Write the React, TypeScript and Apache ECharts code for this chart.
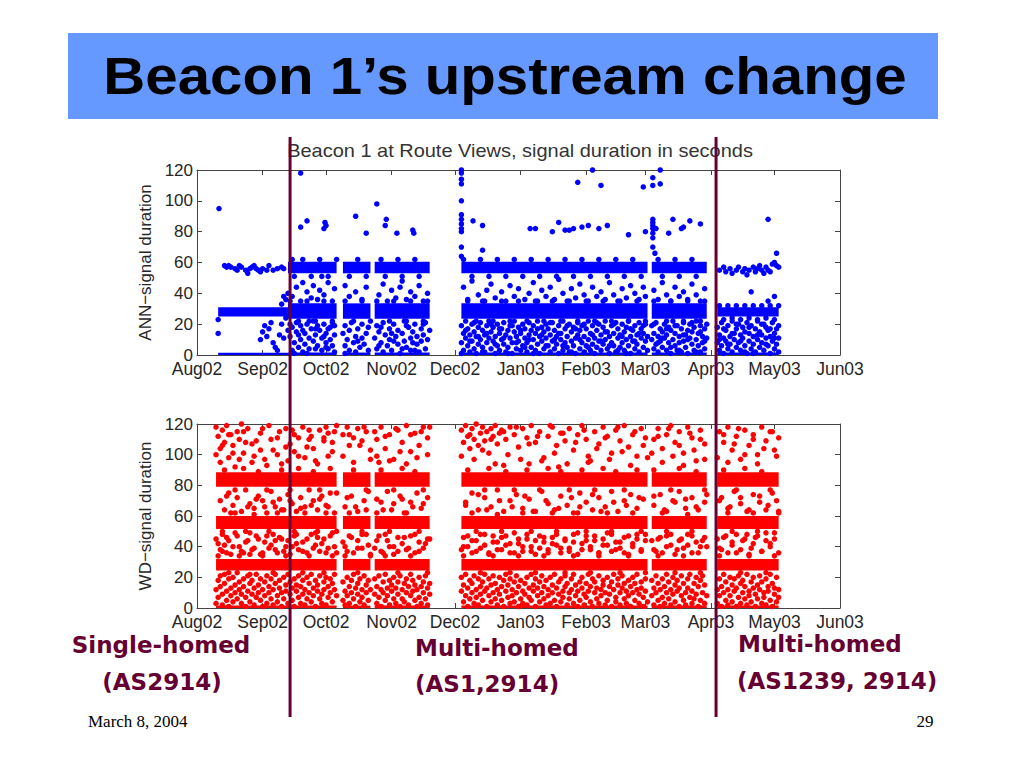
import React, { useEffect, useRef } from "react";
import * as echarts from "echarts";

// x values are days since 1 Aug 2002
const monthDays = [0, 31, 61, 92, 122, 153, 184, 212, 243, 273, 304];
const monthLabels = ["Aug02", "Sep02", "Oct02", "Nov02", "Dec02", "Jan03", "Feb03", "Mar03", "Apr03", "May03", "Jun03"];
const changeDays = [44, 245.4];

// dense bands: [startDay, endDay, low, high]
const annBands = [
  [10, 43, 0, 1.4], [10, 43, 25, 31],
  [43, 66, 0, 1.6], [43, 66, 23.5, 33.5], [43, 66, 53, 60.5],
  [69, 82, 0, 1.6], [69, 82, 23.5, 33.5], [69, 82, 53, 60.5],
  [84, 110, 0, 1.6], [84, 110, 23.5, 33.5], [84, 110, 53, 60.5],
  [125, 213, 0, 1.6], [125, 213, 23.5, 33.5], [125, 213, 53, 60.5],
  [215, 241, 0, 1.6], [215, 241, 23.5, 33.5], [215, 241, 53, 60.5],
  [246, 275, 0, 1.6], [246, 275, 25, 31],
];
const wdBands = [
  [9, 66, 0, 1.6], [9, 66, 24.5, 32], [9, 66, 51.5, 60], [9, 66, 79, 88.5],
  [69, 82, 0, 1.6], [69, 82, 24.5, 32], [69, 82, 51.5, 60], [69, 82, 79, 88.5],
  [84, 110, 0, 1.6], [84, 110, 24.5, 32], [84, 110, 51.5, 60], [84, 110, 79, 88.5],
  [125, 213, 0, 1.6], [125, 213, 24.5, 32], [125, 213, 51.5, 60], [125, 213, 79, 88.5],
  [215, 241, 0, 1.6], [215, 241, 24.5, 32], [215, 241, 51.5, 60], [215, 241, 79, 88.5],
  [246, 275, 0, 1.6], [246, 275, 24.5, 32], [246, 275, 51.5, 60], [246, 275, 79, 88.5],
];

// ANN scatter, flat [day, value, day, value, ...]
const annOutliers = [
  10.4, 95, 49, 118, 49, 83, 52, 87, 60, 82, 60.5, 86, 61, 84, 75, 90, 80, 79, 85, 98, 89, 84, 89.5, 88, 94.5, 79, 102, 81, 102.5, 79,
  125, 120, 125, 118, 125, 114, 125, 111, 125, 100, 125, 91, 125, 88, 125, 85, 125, 82, 125, 80, 125, 70, 125, 64, 130.5, 87, 135, 84, 135, 68,
  157.5, 82, 160, 82, 168, 80, 171, 86, 174, 81, 176, 81, 178, 82, 182, 83, 185, 84, 190, 82, 194, 84, 204, 78, 212, 80,
  180, 112, 187, 120, 191, 110, 211, 109, 215.5, 115, 215.5, 110, 219, 120, 219, 111,
  215.5, 88, 215.5, 86, 215.5, 84, 215.5, 82, 215.5, 79, 215.5, 76, 215.5, 70, 216.5, 66, 217, 82, 223, 79, 225, 88, 229, 82, 230, 83, 233, 87, 238, 85, 270, 88, 274, 66,
];
const annUpper = [
  13, 58, 14, 57, 15, 58, 16, 57, 18, 56, 19, 55, 20, 58, 21, 57, 23, 55, 24, 53, 25, 56, 26, 57, 27, 58, 28, 56, 29, 55, 30, 54, 31, 56, 33, 55, 34, 58, 36, 55, 38, 56, 40, 57, 41, 56,
  247, 55, 249, 57, 250, 54, 252, 56, 253, 53, 255, 55, 256, 57, 258, 54, 259, 56, 261, 55, 263, 57, 264, 54, 265, 56, 267, 55, 268, 53, 269, 57, 270, 55, 271, 54, 272, 59, 273, 60, 274, 58, 275, 57, 266, 58, 260, 52, 262, 41,
];
const annMid = [
  40, 33, 41, 38, 42, 36, 43, 40,
  45, 38, 47, 44, 49, 35, 50, 47, 52, 41, 54, 37, 55, 45, 57, 36, 58, 42, 60, 39, 62, 47, 64, 35, 65, 43,
  70, 45, 72, 38, 75, 41, 78, 36, 80, 44,
  86, 39, 88, 46, 90, 35, 92, 42, 94, 37, 96, 44, 97, 48, 99, 36, 101, 41, 103, 38, 105, 45, 107, 35, 109, 40,
  126, 44, 128, 36, 130, 48, 133, 39, 135, 35, 137, 42, 139, 46, 141, 37, 144, 41, 146, 35, 148, 45, 150, 38, 152, 43, 155, 36, 157, 40, 159, 47, 161, 35, 163, 42, 165, 38, 167, 44, 169, 36, 171, 49, 173, 40, 175, 35, 177, 43, 179, 37, 181, 46, 183, 39, 185, 35, 187, 44, 189, 38, 191, 41, 193, 36, 195, 47, 197, 39, 199, 35, 201, 43, 203, 37, 205, 45, 207, 40, 209, 36, 211, 44, 212, 38,
  216, 42, 218, 36, 220, 47, 222, 39, 224, 35, 226, 44, 228, 38, 230, 41, 232, 36, 234, 46, 236, 39, 238, 35, 240, 43,
  270, 35, 273, 38,
];
const annFringe = [
  44, 35, 46, 51, 48, 22, 50, 62, 52, 35, 54, 51, 56, 22, 58, 62, 60, 35, 62, 51, 64, 22, 66, 62, 45, 62, 53, 22, 59, 51,
  70, 35, 72, 51, 74, 22, 76, 62, 78, 35, 80, 51, 82, 22,
  85, 35, 87, 62, 89, 51, 91, 22, 93, 35, 95, 62, 97, 51, 99, 22, 101, 35, 103, 62, 105, 51, 107, 22, 109, 35,
  126, 62, 128, 35, 130, 51, 132, 22, 134, 62, 136, 35, 138, 51, 140, 22, 142, 62, 144, 35, 146, 51, 148, 22, 150, 62, 152, 35, 154, 51, 156, 22, 158, 62, 160, 35, 162, 51, 164, 22, 166, 62, 168, 35, 170, 51, 172, 22, 174, 62, 176, 35, 178, 51, 180, 22, 182, 62, 184, 35, 186, 51, 188, 22, 190, 62, 192, 35, 194, 51, 196, 22, 198, 62, 200, 35, 202, 51, 204, 22, 206, 62, 208, 35, 210, 51, 212, 22,
  216, 35, 218, 62, 220, 51, 222, 22, 224, 35, 226, 62, 228, 51, 230, 22, 232, 35, 234, 62, 236, 51, 238, 22, 240, 35,
  247, 32, 249, 23, 251, 32, 253, 24, 255, 32, 257, 23, 259, 32, 261, 24, 263, 32, 265, 23, 267, 32, 269, 24, 271, 32, 273, 23, 275, 32,
];
const annLow = [
  10, 14, 10, 23, 30, 10, 31, 15, 32, 19, 33, 12, 34, 17, 35, 21, 36, 8, 37, 5, 38, 3, 39, 13, 40, 20, 41, 11, 42, 24,
  44, 12, 45, 3, 45, 18, 46, 8, 47, 15, 47, 21, 48, 5, 49, 10, 49, 19, 50, 2, 51, 14, 51, 7, 52, 20, 53, 11, 53, 4, 54, 17, 55, 9, 55, 22, 56, 13, 57, 6, 57, 19, 58, 16, 59, 3, 59, 11, 60, 20, 61, 8, 61, 14, 62, 4, 63, 18, 63, 10, 64, 6, 64, 21, 65, 13, 65, 2, 46, 1, 50, 16, 56, 4, 60, 12, 62, 17, 44, 20,
  69, 14, 70, 6, 70, 19, 71, 10, 72, 3, 72, 16, 73, 21, 74, 8, 75, 12, 75, 2, 76, 17, 77, 5, 78, 11, 78, 20, 79, 7, 80, 14, 81, 3, 81, 18, 70, 1, 76, 9,
  84, 11, 85, 4, 85, 19, 86, 15, 87, 8, 88, 21, 88, 2, 89, 13, 90, 6, 91, 17, 91, 10, 92, 3, 93, 20, 94, 12, 95, 7, 95, 16, 96, 1, 97, 14, 98, 22, 98, 9, 99, 5, 100, 18, 101, 11, 101, 3, 102, 15, 103, 20, 104, 7, 104, 12, 105, 2, 106, 17, 106, 9, 107, 13, 108, 4, 108, 21, 109, 10, 110, 16, 86, 6, 93, 9, 99, 19, 103, 3,
  125, 8, 125, 19, 126, 3, 126, 14, 127, 11, 127, 22, 128, 6, 128, 17, 129, 2, 129, 13, 130, 9, 130, 20, 131, 4, 131, 15, 132, 12, 132, 1, 133, 18, 133, 7, 134, 10, 134, 21, 135, 5, 135, 16, 136, 13, 136, 2, 137, 19, 137, 8, 138, 11, 138, 22, 139, 4, 139, 15, 140, 9, 140, 18, 141, 1, 141, 12, 142, 6, 142, 20, 143, 14, 143, 3, 144, 10, 144, 17, 145, 7, 145, 21, 146, 2, 146, 13, 147, 16, 147, 5, 148, 11, 148, 19, 149, 8, 149, 1, 150, 15, 150, 22, 151, 4, 151, 12, 152, 18, 152, 9, 153, 3, 153, 14, 154, 20, 154, 6, 155, 11, 155, 17, 156, 2, 156, 8, 157, 13, 157, 21, 158, 5, 158, 16, 159, 10, 159, 19, 160, 3, 160, 14, 161, 7, 161, 22, 162, 12, 162, 1, 163, 18, 163, 9, 164, 4, 164, 15, 165, 11, 165, 20, 166, 6, 166, 17, 167, 2, 167, 13, 168, 9, 168, 21, 169, 16, 169, 4, 170, 12, 170, 7, 171, 19, 171, 1, 172, 14, 172, 10, 173, 3, 173, 22, 174, 8, 174, 17, 175, 12, 175, 5, 176, 20, 176, 2, 177, 15, 177, 9, 178, 6, 178, 18, 179, 11, 179, 1, 180, 21, 180, 13, 181, 4, 181, 16, 182, 8, 182, 19, 183, 2, 183, 12, 184, 17, 184, 6, 185, 10, 185, 22, 186, 3, 186, 14, 187, 19, 187, 7, 188, 11, 188, 1, 189, 16, 189, 5, 190, 20, 190, 9, 191, 13, 191, 3, 192, 18, 192, 7, 193, 10, 193, 22, 194, 4, 194, 15, 195, 12, 195, 1, 196, 19, 196, 8, 197, 14, 197, 6, 198, 21, 198, 2, 199, 11, 199, 17, 200, 5, 200, 13, 201, 20, 201, 8, 202, 3, 202, 15, 203, 10, 203, 18, 204, 6, 204, 22, 205, 12, 205, 1, 206, 16, 206, 9, 207, 4, 207, 19, 208, 13, 208, 7, 209, 21, 209, 2, 210, 11, 210, 17, 211, 5, 211, 14, 212, 9, 212, 20, 213, 3,
  215, 10, 215, 19, 216, 4, 216, 14, 217, 21, 217, 7, 218, 12, 218, 2, 219, 17, 219, 9, 220, 5, 220, 15, 221, 20, 221, 11, 222, 3, 222, 13, 223, 18, 223, 8, 224, 1, 224, 16, 225, 10, 225, 22, 226, 6, 226, 14, 227, 19, 227, 3, 228, 12, 228, 8, 229, 17, 229, 2, 230, 9, 230, 21, 231, 13, 231, 5, 232, 16, 232, 1, 233, 11, 233, 20, 234, 7, 234, 15, 235, 3, 235, 18, 236, 10, 236, 22, 237, 6, 237, 14, 238, 19, 238, 2, 239, 12, 239, 8, 240, 17, 240, 4, 241, 11, 241, 20,
  246, 8, 246, 18, 247, 3, 247, 13, 248, 21, 248, 6, 249, 11, 249, 1, 250, 16, 250, 9, 251, 4, 251, 19, 252, 12, 252, 7, 253, 22, 253, 2, 254, 14, 254, 10, 255, 17, 255, 5, 256, 8, 256, 20, 257, 13, 257, 3, 258, 18, 258, 11, 259, 6, 259, 15, 260, 1, 260, 21, 261, 9, 261, 14, 262, 4, 262, 19, 263, 12, 263, 7, 264, 17, 264, 2, 265, 10, 265, 22, 266, 5, 266, 15, 267, 13, 267, 8, 268, 20, 268, 3, 269, 11, 269, 18, 270, 6, 270, 16, 271, 1, 271, 12, 272, 9, 272, 21, 273, 14, 273, 4, 274, 17, 274, 7, 275, 11, 275, 2,
];
const annLowExtra = [
  43, 16, 48, 13, 52, 1, 56, 17, 61, 5, 65, 19,
  87, 18, 92, 14, 97, 4, 102, 8, 107, 20,
  125, 1, 127, 16, 129, 9, 131, 21, 133, 12, 135, 2, 137, 14, 139, 20, 141, 7, 143, 17, 145, 11, 147, 1, 149, 19, 151, 8, 153, 16, 155, 5, 157, 10, 159, 1, 161, 17, 163, 13, 165, 6, 167, 21, 169, 10, 171, 14, 173, 6, 175, 19, 177, 2, 179, 17, 181, 10, 183, 20, 185, 5, 187, 13, 189, 21, 191, 9, 193, 15, 195, 6, 197, 20, 199, 3, 201, 12, 203, 1, 205, 17, 207, 9, 209, 14, 211, 19, 213, 12,
  216, 20, 218, 8, 220, 11, 222, 17, 224, 5, 226, 19, 228, 3, 230, 13, 232, 10, 234, 21, 236, 2, 238, 15, 240, 9,
  247, 10, 249, 17, 251, 7, 253, 14, 255, 20, 257, 9, 259, 2, 261, 18, 263, 1, 265, 13, 267, 20, 269, 7, 271, 17, 273, 11, 275, 19,
];

// WD scatter, flat [day, value, ...]
const wdLow = [
  9, 12, 9, 3, 10, 18, 10, 7, 11, 21, 11, 14, 12, 2, 12, 9, 13, 16, 13, 22, 14, 5, 14, 11, 15, 19, 15, 1, 16, 13, 16, 8, 17, 20, 17, 4, 18, 15, 18, 10, 19, 23, 19, 6, 20, 12, 20, 17, 21, 3, 21, 9, 22, 19, 22, 14, 23, 7, 23, 1, 24, 21, 24, 11, 25, 16, 25, 4, 26, 9, 26, 18, 27, 13, 27, 2, 28, 22, 28, 7, 29, 15, 29, 10, 30, 5, 30, 19, 31, 12, 31, 1, 32, 17, 32, 8, 33, 21, 33, 3, 34, 14, 34, 10, 35, 6, 35, 19, 36, 12, 36, 2, 37, 16, 37, 22, 38, 8, 38, 4, 39, 13, 39, 18, 40, 1, 40, 10, 41, 20, 41, 6, 42, 15, 42, 11, 43, 3, 43, 22, 44, 9, 44, 17, 45, 13, 45, 5, 46, 19, 46, 1, 47, 11, 47, 15, 48, 7, 48, 21, 49, 3, 49, 14, 50, 18, 50, 9, 51, 12, 51, 2, 52, 20, 52, 6, 53, 16, 53, 10, 54, 4, 54, 22, 55, 13, 55, 8, 56, 18, 56, 1, 57, 11, 57, 15, 58, 6, 58, 21, 59, 9, 59, 3, 60, 17, 60, 12, 61, 2, 61, 20, 62, 14, 62, 7, 63, 10, 63, 19, 64, 4, 64, 16, 65, 12, 65, 22, 66, 8,
  69, 5, 69, 17, 70, 11, 70, 2, 71, 20, 71, 8, 72, 14, 72, 3, 73, 18, 73, 10, 74, 6, 74, 22, 75, 13, 75, 1, 76, 16, 76, 9, 77, 4, 77, 19, 78, 12, 78, 7, 79, 21, 79, 2, 80, 15, 80, 10, 81, 5, 81, 18, 82, 12,
  84, 9, 84, 19, 85, 3, 85, 14, 86, 21, 86, 7, 87, 12, 87, 1, 88, 17, 88, 10, 89, 5, 89, 22, 90, 13, 90, 8, 91, 18, 91, 2, 92, 11, 92, 15, 93, 6, 93, 20, 94, 3, 94, 13, 95, 17, 95, 9, 96, 1, 96, 21, 97, 12, 97, 6, 98, 16, 98, 4, 99, 19, 99, 10, 100, 14, 100, 2, 101, 8, 101, 22, 102, 11, 102, 18, 103, 5, 103, 15, 104, 1, 104, 12, 105, 20, 105, 7, 106, 14, 106, 3, 107, 17, 107, 10, 108, 6, 108, 21, 109, 13, 109, 2, 110, 16, 110, 9,
  125, 11, 125, 20, 126, 4, 126, 15, 127, 8, 127, 22, 128, 13, 128, 1, 129, 18, 129, 6, 130, 10, 130, 16, 131, 3, 131, 21, 132, 12, 132, 7, 133, 19, 133, 2, 134, 14, 134, 9, 135, 5, 135, 17, 136, 11, 136, 22, 137, 1, 137, 13, 138, 8, 138, 19, 139, 15, 139, 4, 140, 10, 140, 21, 141, 6, 141, 16, 142, 12, 142, 2, 143, 20, 143, 9, 144, 14, 144, 5, 145, 18, 145, 1, 146, 11, 146, 22, 147, 7, 147, 15, 148, 3, 148, 19, 149, 12, 149, 8, 150, 17, 150, 4, 151, 21, 151, 10, 152, 14, 152, 1, 153, 6, 153, 18, 154, 11, 154, 3, 155, 16, 155, 9, 156, 20, 156, 2, 157, 13, 157, 7, 158, 22, 158, 5, 159, 15, 159, 11, 160, 1, 160, 19, 161, 8, 161, 13, 162, 4, 162, 17, 163, 10, 163, 21, 164, 6, 164, 14, 165, 2, 165, 18, 166, 12, 166, 8, 167, 20, 167, 3, 168, 15, 168, 10, 169, 5, 169, 22, 170, 13, 170, 1, 171, 17, 171, 9, 172, 4, 172, 19, 173, 11, 173, 7, 174, 21, 174, 14, 175, 2, 175, 16, 176, 10, 176, 6, 177, 19, 177, 12, 178, 3, 178, 22, 179, 8, 179, 15, 180, 1, 180, 11, 181, 17, 181, 5, 182, 13, 182, 20, 183, 9, 183, 2, 184, 16, 184, 7, 185, 22, 185, 11, 186, 4, 186, 14, 187, 19, 187, 1, 188, 10, 188, 17, 189, 6, 189, 13, 190, 21, 190, 3, 191, 12, 191, 8, 192, 18, 192, 15, 193, 2, 193, 10, 194, 20, 194, 5, 195, 14, 195, 9, 196, 1, 196, 17, 197, 12, 197, 22, 198, 7, 198, 4, 199, 15, 199, 19, 200, 10, 200, 2, 201, 13, 201, 21, 202, 6, 202, 16, 203, 11, 203, 3, 204, 18, 204, 8, 205, 14, 205, 1, 206, 20, 206, 10, 207, 5, 207, 16, 208, 12, 208, 22, 209, 3, 209, 9, 210, 17, 210, 13, 211, 7, 211, 1, 212, 19, 212, 11, 213, 4,
  215, 8, 215, 18, 216, 2, 216, 13, 217, 21, 217, 10, 218, 5, 218, 16, 219, 12, 219, 1, 220, 19, 220, 7, 221, 14, 221, 3, 222, 22, 222, 10, 223, 6, 223, 17, 224, 12, 224, 2, 225, 20, 225, 9, 226, 15, 226, 4, 227, 11, 227, 18, 228, 1, 228, 13, 229, 8, 229, 21, 230, 5, 230, 16, 231, 10, 231, 2, 232, 19, 232, 13, 233, 7, 233, 22, 234, 3, 234, 11, 235, 16, 235, 6, 236, 20, 236, 9, 237, 1, 237, 14, 238, 18, 238, 5, 239, 10, 239, 21, 240, 3, 240, 15, 241, 8,
  246, 12, 246, 3, 247, 19, 247, 8, 248, 14, 248, 1, 249, 22, 249, 10, 250, 5, 250, 17, 251, 12, 251, 2, 252, 20, 252, 8, 253, 15, 253, 4, 254, 11, 254, 19, 255, 1, 255, 13, 256, 7, 256, 21, 257, 16, 257, 3, 258, 10, 258, 18, 259, 6, 259, 14, 260, 2, 260, 22, 261, 11, 261, 8, 262, 17, 262, 4, 263, 13, 263, 20, 264, 1, 264, 9, 265, 15, 265, 6, 266, 21, 266, 12, 267, 3, 267, 17, 268, 10, 268, 7, 269, 19, 269, 2, 270, 14, 270, 11, 271, 5, 271, 22, 272, 16, 272, 1, 273, 9, 273, 13, 274, 20, 274, 4, 275, 12, 275, 7,
];
const wdMidA = [
  10, 42, 12, 37, 14, 46, 16, 35, 18, 49, 20, 40, 22, 36, 24, 44, 26, 38, 28, 47, 30, 35, 32, 43, 34, 39, 36, 48, 38, 36, 40, 45, 42, 40, 44, 35, 46, 47, 48, 38, 50, 43, 52, 36, 54, 48, 56, 41, 58, 37, 60, 45, 62, 39, 64, 49, 66, 36, 13, 41, 25, 35, 37, 44, 47, 42, 57, 46,
  70, 40, 72, 47, 74, 36, 76, 44, 78, 39, 80, 48, 82, 35,
  85, 44, 87, 37, 89, 48, 91, 40, 93, 35, 95, 46, 97, 42, 99, 38, 101, 47, 103, 36, 105, 43, 107, 39, 109, 45,
  126, 40, 128, 47, 130, 36, 132, 44, 134, 39, 136, 48, 138, 35, 140, 43, 142, 38, 144, 46, 146, 41, 148, 36, 150, 49, 152, 42, 154, 37, 156, 45, 158, 40, 160, 35, 162, 47, 164, 43, 166, 38, 168, 46, 170, 41, 172, 36, 174, 44, 176, 39, 178, 48, 180, 35, 182, 42, 184, 47, 186, 38, 188, 44, 190, 36, 192, 41, 194, 49, 196, 37, 198, 43, 200, 39, 202, 46, 204, 35, 206, 42, 208, 48, 210, 38, 212, 44,
  216, 38, 218, 45, 220, 36, 222, 47, 224, 41, 226, 35, 228, 44, 230, 39, 232, 48, 234, 36, 236, 43, 238, 40, 240, 46,
  247, 39, 249, 46, 251, 36, 253, 43, 255, 48, 257, 38, 259, 45, 261, 35, 263, 42, 265, 47, 267, 37, 269, 44, 271, 40, 273, 49, 275, 36,
];
const wdMidB = [
  11, 70, 13, 64, 15, 75, 17, 67, 19, 72, 21, 63, 23, 77, 25, 68, 27, 65, 29, 73, 31, 70, 33, 62, 35, 76, 37, 66, 39, 71, 41, 64, 43, 74, 45, 68, 47, 63, 49, 72, 51, 66, 53, 77, 55, 70, 57, 64, 59, 73, 61, 67, 63, 75, 65, 62,
  70, 66, 73, 73, 76, 63, 79, 70, 81, 76,
  85, 71, 88, 64, 90, 76, 93, 68, 96, 73, 98, 62, 101, 69, 104, 75, 106, 65, 109, 72,
  127, 69, 130, 75, 133, 64, 136, 72, 139, 66, 142, 77, 145, 63, 148, 70, 151, 74, 154, 65, 157, 71, 160, 63, 163, 76, 166, 68, 169, 64, 172, 73, 175, 67, 178, 62, 181, 75, 184, 69, 187, 64, 190, 72, 193, 66, 196, 76, 199, 63, 202, 70, 205, 74, 208, 65, 211, 71,
  216, 67, 219, 74, 222, 63, 225, 70, 228, 76, 231, 65, 234, 72, 237, 64, 240, 69,
  248, 72, 251, 65, 254, 76, 257, 68, 260, 63, 263, 74, 266, 69, 269, 64, 272, 75, 274, 70,
];
const wdHigh = [
  9, 118, 10, 112, 11, 104, 12, 116, 13, 108, 14, 119, 15, 98, 16, 113, 17, 106, 18, 92, 19, 115, 20, 110, 22, 101, 24, 117, 26, 95, 28, 109, 30, 114, 32, 97, 34, 119, 36, 103, 38, 111, 40, 94, 42, 117, 44, 107, 46, 113, 48, 99, 50, 118, 52, 105, 54, 112, 56, 96, 58, 116, 60, 109, 62, 114, 64, 102, 66, 119, 21, 120, 23, 108, 45, 116, 53, 110, 61, 118,
  69, 113, 71, 118, 72, 106, 74, 111, 76, 117, 78, 109, 80, 115, 82, 103,
  85, 110, 87, 118, 89, 104, 91, 113, 93, 97, 95, 116, 97, 108, 99, 119, 101, 102, 103, 114, 105, 106, 107, 118, 109, 111, 86, 95,
  125, 116, 126, 108, 127, 119, 128, 112, 129, 104, 130, 117, 131, 110, 132, 120, 133, 106, 134, 114, 135, 118, 136, 109, 137, 115, 138, 101, 139, 117, 140, 112, 141, 119, 142, 107, 143, 114, 144, 116, 146, 110, 148, 118, 150, 113, 152, 105, 154, 117, 156, 111, 158, 119, 160, 108, 162, 115, 164, 98, 166, 112, 168, 118, 170, 106, 172, 114, 174, 109, 176, 117, 178, 103, 180, 113, 182, 119, 184, 110, 186, 96, 188, 115, 190, 107, 192, 118, 194, 112, 196, 101, 198, 116, 200, 109, 202, 119, 204, 105, 206, 113, 208, 99, 210, 117, 212, 111, 145, 93, 157, 94, 171, 92, 185, 95,
  216, 110, 218, 117, 220, 104, 222, 113, 224, 119, 226, 108, 228, 115, 230, 101, 232, 118, 234, 111, 236, 96, 238, 116, 240, 107,
  247, 115, 249, 108, 251, 118, 253, 103, 255, 112, 257, 97, 259, 116, 261, 106, 263, 113, 265, 100, 267, 118, 269, 109, 271, 115, 273, 103, 275, 111,
];
const wdExtra = [
  9, 45, 9, 100, 11, 38, 11, 95, 12, 48, 12, 106, 14, 36, 14, 73, 15, 44, 15, 113, 17, 40, 17, 101, 18, 62, 19, 47, 20, 97, 21, 37, 22, 115, 23, 43, 24, 66, 25, 49, 26, 107, 27, 39, 27, 99, 28, 71, 29, 45, 30, 103, 31, 36, 31, 117, 32, 66, 33, 47, 33, 93, 35, 41, 35, 110, 36, 69, 37, 38, 38, 100, 39, 46, 39, 115, 40, 64, 41, 37, 42, 105, 43, 44, 43, 96, 44, 70, 45, 40, 46, 102, 47, 48, 48, 111, 49, 65, 50, 37, 51, 98, 52, 45, 53, 116, 54, 67, 55, 39, 55, 104, 56, 49, 57, 94, 58, 71, 59, 42, 60, 111, 61, 36, 62, 99, 62, 66, 63, 47, 64, 108, 65, 40, 65, 115, 66, 75,
  69, 43, 69, 99, 71, 37, 71, 72, 72, 113, 73, 46, 74, 95, 75, 66, 76, 39, 77, 106, 78, 48, 79, 118, 80, 64, 81, 41, 82, 97,
  84, 39, 84, 115, 85, 99, 86, 47, 87, 69, 88, 36, 89, 112, 90, 44, 91, 96, 92, 64, 93, 40, 94, 117, 95, 37, 96, 102, 97, 71, 98, 46, 99, 94, 100, 39, 101, 113, 102, 66, 103, 48, 104, 98, 105, 37, 106, 115, 107, 68, 108, 42, 109, 100, 110, 45, 110, 118,
  125, 38, 125, 99, 126, 46, 127, 67, 128, 40, 129, 113, 130, 44, 131, 97, 132, 37, 133, 74, 134, 48, 135, 103, 136, 41, 137, 64, 138, 36, 139, 110, 140, 47, 141, 94, 142, 43, 143, 70, 144, 38, 145, 115, 146, 47, 147, 100, 148, 42, 149, 66, 150, 36, 151, 118, 152, 45, 153, 97, 154, 40, 155, 73, 156, 48, 157, 107, 158, 37, 159, 63, 160, 44, 161, 112, 162, 39, 163, 96, 164, 46, 165, 70, 166, 36, 167, 119, 168, 42, 169, 101, 170, 48, 171, 65, 172, 39, 173, 114, 174, 45, 175, 94, 176, 37, 177, 72, 178, 43, 179, 108, 180, 49, 181, 66, 182, 38, 183, 116, 184, 44, 185, 99, 186, 40, 187, 74, 188, 47, 189, 104, 190, 36, 191, 63, 192, 45, 193, 111, 194, 41, 195, 97, 196, 48, 197, 69, 198, 38, 199, 118, 200, 43, 201, 102, 202, 36, 203, 67, 204, 47, 205, 93, 206, 40, 207, 115, 208, 45, 209, 72, 210, 37, 211, 106, 212, 48, 213, 98,
  215, 44, 215, 101, 216, 73, 217, 37, 218, 112, 219, 46, 220, 95, 221, 64, 222, 40, 223, 117, 224, 48, 225, 99, 226, 69, 227, 38, 228, 106, 229, 45, 230, 93, 231, 71, 232, 41, 233, 114, 234, 47, 235, 103, 236, 66, 237, 36, 238, 110, 239, 44, 240, 97, 241, 74, 241, 40,
  246, 45, 246, 98, 247, 70, 248, 38, 249, 113, 250, 47, 251, 95, 252, 66, 253, 41, 254, 107, 255, 36, 256, 117, 257, 72, 258, 44, 259, 100, 260, 48, 261, 64, 262, 39, 263, 110, 264, 46, 265, 94, 266, 73, 267, 37, 268, 104, 269, 49, 270, 67, 271, 42, 272, 115, 273, 45, 274, 99, 275, 63,
];
const wdFringe = [
  10, 34, 12, 50, 13, 90, 15, 23, 16, 62, 18, 77, 20, 34, 22, 91, 23, 50, 25, 22, 27, 61, 29, 89, 31, 34, 33, 77, 34, 50, 36, 23, 38, 62, 40, 90, 42, 34, 44, 77, 46, 50, 48, 91, 50, 23, 51, 62, 53, 34, 55, 89, 57, 50, 58, 77, 60, 23, 61, 62, 63, 91, 64, 34, 66, 50,
  70, 34, 72, 62, 74, 90, 76, 23, 78, 50, 80, 77, 82, 34,
  85, 62, 87, 90, 89, 34, 91, 50, 93, 77, 95, 23, 97, 91, 99, 62, 101, 34, 103, 89, 105, 50, 107, 77, 109, 23,
  126, 34, 128, 90, 130, 62, 132, 50, 134, 23, 136, 77, 138, 91, 140, 34, 142, 61, 144, 50, 146, 89, 148, 23, 150, 77, 152, 34, 154, 62, 156, 90, 158, 50, 160, 23, 162, 77, 164, 34, 166, 91, 168, 62, 170, 50, 172, 89, 174, 23, 176, 77, 178, 34, 180, 62, 182, 90, 184, 50, 186, 23, 188, 77, 190, 34, 192, 91, 194, 62, 196, 50, 198, 89, 200, 23, 202, 77, 204, 34, 206, 62, 208, 90, 210, 50, 212, 23,
  216, 90, 218, 34, 220, 62, 222, 50, 224, 77, 226, 23, 228, 91, 230, 34, 232, 61, 234, 50, 236, 89, 238, 23, 240, 77,
  247, 34, 249, 90, 251, 62, 253, 50, 255, 77, 257, 23, 259, 91, 261, 34, 263, 62, 265, 50, 267, 89, 269, 23, 271, 77, 273, 34, 275, 62,
];

const toPairs = (flat: number[]) => {
  const out: number[][] = [];
  for (let i = 0; i < flat.length; i += 2) out.push([flat[i], flat[i + 1]]);
  return out;
};

const AXIS_FONT = "'Liberation Sans', Arial, sans-serif";
const FRAME = "#444";
const LABEL = "#262626";

function makeAxes(gridIndex: number, yName: string) {
  const xBottom = {
    gridIndex, type: "value", min: 0, max: 304, position: "bottom",
    axisLine: { show: true, onZero: false, lineStyle: { color: FRAME, width: 1 } },
    axisTick: { show: true, inside: true, length: 5, customValues: monthDays, lineStyle: { color: FRAME } },
    axisLabel: {
      show: true, customValues: monthDays, margin: 5, color: LABEL, fontSize: 17.5, fontFamily: AXIS_FONT,
      formatter: (v: number) => monthLabels[monthDays.indexOf(v)] ?? "",
    },
    splitLine: { show: false },
  };
  const xTop = {
    gridIndex, type: "value", min: 0, max: 304, position: "top",
    axisLine: { show: true, onZero: false, lineStyle: { color: FRAME, width: 1 } },
    axisTick: { show: true, inside: true, length: 5, customValues: monthDays, lineStyle: { color: FRAME } },
    axisLabel: { show: false },
    splitLine: { show: false },
  };
  const yLeft = {
    gridIndex, type: "value", min: 0, max: 120, interval: 20, position: "left",
    name: yName, nameLocation: "middle", nameGap: 38, nameRotate: 90,
    nameTextStyle: { color: LABEL, fontSize: 17, fontFamily: AXIS_FONT },
    axisLine: { show: true, onZero: false, lineStyle: { color: FRAME, width: 1 } },
    axisTick: { show: true, inside: true, length: 5, lineStyle: { color: FRAME } },
    axisLabel: { show: true, margin: 4, color: LABEL, fontSize: 17, fontFamily: AXIS_FONT },
    splitLine: { show: false },
  };
  const yRight = {
    gridIndex, type: "value", min: 0, max: 120, interval: 20, position: "right",
    axisLine: { show: true, onZero: false, lineStyle: { color: FRAME, width: 1 } },
    axisTick: { show: true, inside: true, length: 5, lineStyle: { color: FRAME } },
    axisLabel: { show: false },
    splitLine: { show: false },
  };
  return { xs: [xBottom, xTop], ys: [yLeft, yRight] };
}

function bandSeries(data: number[][], axisIndex: number, color: string) {
  return {
    type: "custom", xAxisIndex: axisIndex, yAxisIndex: axisIndex, data, silent: true, z: 2,
    encode: { x: [0, 1], y: [2, 3] },
    renderItem: (_params: any, api: any) => {
      const p0 = api.coord([api.value(0), api.value(3)]);
      const p1 = api.coord([api.value(1), api.value(2)]);
      return {
        type: "rect",
        shape: { x: p0[0], y: p0[1], width: p1[0] - p0[0], height: Math.max(p1[1] - p0[1], 2) },
        style: { fill: color },
      };
    },
  };
}

function dotSeries(flat: number[], axisIndex: number, color: string) {
  return {
    type: "scatter", xAxisIndex: axisIndex, yAxisIndex: axisIndex, data: toPairs(flat),
    symbol: "circle", symbolSize: 5.5, itemStyle: { color, opacity: 1 }, silent: true, z: 3,
  };
}

export default function App() {
  const ref = useRef<HTMLDivElement>(null);
  useEffect(() => {
    if (!ref.current) return;
    const chart = echarts.init(ref.current, null, { renderer: "svg" });
    const a1 = makeAxes(0, "ANN\u2212signal duration");
    const a2 = makeAxes(1, "WD\u2212signal duration");
    const BLUE = "#0000FF";
    const RED = "#FF0000";
    chart.setOption({
      animation: false,
      backgroundColor: "#ffffff",
      grid: [
        { left: 197, top: 170, width: 643, height: 185 },
        { left: 197, top: 424, width: 643, height: 184 },
      ],
      // index: 0 bottom g0, 1 top g0, 2 bottom g1, 3 top g1
      xAxis: [a1.xs[0], a1.xs[1], a2.xs[0], a2.xs[1]],
      yAxis: [a1.ys[0], a1.ys[1], a2.ys[0], a2.ys[1]],
      series: [
        bandSeries(annBands, 0, BLUE),
        dotSeries(annLow, 0, BLUE),
        dotSeries(annLowExtra, 0, BLUE),
        dotSeries(annMid, 0, BLUE),
        dotSeries(annFringe, 0, BLUE),
        dotSeries(annUpper, 0, BLUE),
        dotSeries(annOutliers, 0, BLUE),
        bandSeries(wdBands, 2, RED),
        dotSeries(wdLow, 2, RED),
        dotSeries(wdMidA, 2, RED),
        dotSeries(wdMidB, 2, RED),
        dotSeries(wdHigh, 2, RED),
        dotSeries(wdExtra, 2, RED),
        dotSeries(wdFringe, 2, RED),
      ],
    });

    const lineXs = changeDays.map((d) => chart.convertToPixel({ xAxisIndex: 0 }, d) as unknown as number);
    const MAROON = "#660033";
    const annoFont = "'Comic Sans MS', 'DejaVu Sans', sans-serif";
    const annoText = (text: string, x: number, y: number, align: string) => ({
      type: "text", x, y, z: 20,
      style: { text, fill: MAROON, fontSize: 23, fontWeight: "bold", fontFamily: annoFont, align, verticalAlign: "middle" },
    });
    chart.setOption({
      graphic: [
        { type: "rect", shape: { x: 68, y: 33, width: 870, height: 86 }, style: { fill: "#6699FF" }, z: 10 },
        {
          type: "text", x: 505, y: 76, scaleX: 1.12, z: 11,
          style: {
            text: "Beacon 1\u2019s upstream change", fill: "#000", fontSize: 52, fontWeight: "bold",
            fontFamily: "'Liberation Sans', Arial, sans-serif", align: "center", verticalAlign: "middle",
          },
        },
        {
          type: "text", x: 520, y: 151, scaleX: 1.11, z: 11,
          style: {
            text: "Beacon 1 at Route Views, signal duration in seconds", fill: "#333", fontSize: 18,
            fontFamily: AXIS_FONT, align: "center", verticalAlign: "middle",
          },
        },
        ...lineXs.map((x) => ({
          type: "line", z: 15,
          shape: { x1: x, y1: 137, x2: x, y2: 717 },
          style: { stroke: MAROON, lineWidth: 3 },
        })),
        annoText("Single-homed", 161, 645, "center"),
        annoText("(AS2914)", 162, 682, "center"),
        annoText("Multi-homed", 415, 648, "left"),
        annoText("(AS1,2914)", 415, 684, "left"),
        annoText("Multi-homed", 738, 644, "left"),
        annoText("(AS1239, 2914)", 737, 681, "left"),
        {
          type: "text", x: 88, y: 721, z: 11,
          style: { text: "March 8, 2004", fill: "#000", fontSize: 17, fontFamily: "'Liberation Serif', 'Times New Roman', serif", align: "left", verticalAlign: "middle" },
        },
        {
          type: "text", x: 925, y: 721, z: 11,
          style: { text: "29", fill: "#000", fontSize: 17, fontFamily: "'Liberation Serif', 'Times New Roman', serif", align: "center", verticalAlign: "middle" },
        },
      ],
    });
    return () => chart.dispose();
  }, []);
  return (
    <div
      ref={ref}
      style={{ position: "fixed", left: 0, top: 0, width: 1024, height: 768, background: "#fff" }}
    />
  );
}
